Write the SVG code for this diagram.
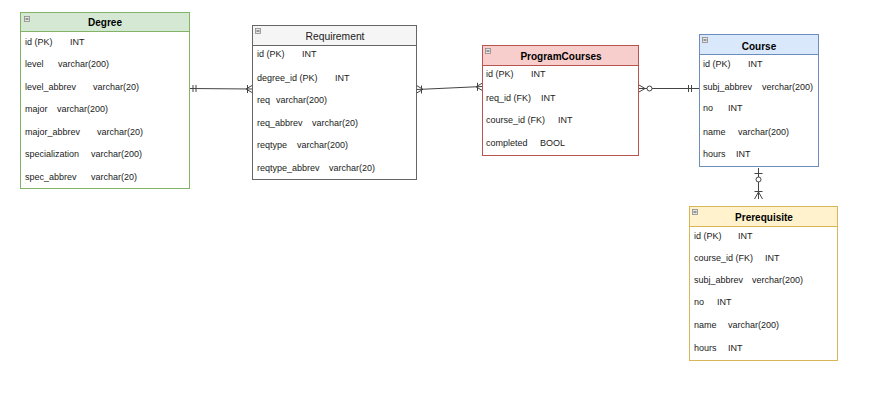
<svg xmlns="http://www.w3.org/2000/svg" width="885" height="408" viewBox="0 0 885 408">
<style>
  .row { font-family: "Liberation Sans", Arial, sans-serif; font-size: 9px; fill: #1a1a1a; }
  .title { font-family: "Liberation Sans", Arial, sans-serif; font-size: 10px; font-weight: bold; fill: #000; text-anchor: middle; }
  .title-n { font-family: "Liberation Sans", Arial, sans-serif; font-size: 10.3px; fill: #1a1a1a; text-anchor: middle; }
  .body { fill: #ffffff; stroke-width: 1; }
  .icon { fill: #e6e6e6; stroke: #8a8a8a; stroke-width: 0.8; }
  .iconl { stroke: #333; stroke-width: 0.9; }
  .conn { fill: none; stroke: #444; stroke-width: 1; }
  .circ { fill: #ffffff; stroke: #444; stroke-width: 1; }
</style>
<rect width="885" height="408" fill="#ffffff"/>

<g id="degree">
  <rect class="body" x="20.5" y="31.5" width="169" height="157" stroke="#82b366"/>
  <rect x="20.5" y="12.5" width="169" height="19" fill="#d5e8d4" stroke="#82b366"/>
  <rect class="icon" x="24.5" y="16.5" width="5" height="5"/><line class="iconl" x1="25.5" y1="19" x2="28.5" y2="19"/>
  <text class="title" x="105" y="25.5">Degree</text>
  <text class="row" x="25" y="45">id (PK)<tspan x="70">INT</tspan></text>
  <text class="row" x="25" y="67">level<tspan x="58">varchar(200)</tspan></text>
  <text class="row" x="25" y="90">level_abbrev<tspan x="93">varchar(20)</tspan></text>
  <text class="row" x="25" y="112">major<tspan x="57">varchar(200)</tspan></text>
  <text class="row" x="25" y="135">major_abbrev<tspan x="97">varchar(20)</tspan></text>
  <text class="row" x="25" y="157">specialization<tspan x="91">varchar(200)</tspan></text>
  <text class="row" x="25" y="180">spec_abbrev<tspan x="91">varchar(20)</tspan></text>
</g>

<g id="requirement">
  <rect class="body" x="252.5" y="45.5" width="164" height="134" stroke="#666666"/>
  <rect x="252.5" y="25.5" width="164" height="20" fill="#f5f5f5" stroke="#666666"/>
  <rect class="icon" x="255.5" y="28.5" width="5" height="5"/><line class="iconl" x1="256.5" y1="31" x2="259.5" y2="31"/>
  <text class="title-n" x="335" y="39.5">Requirement</text>
  <text class="row" x="257" y="57">id (PK)<tspan x="302">INT</tspan></text>
  <text class="row" x="257" y="81">degree_id (PK)<tspan x="335">INT</tspan></text>
  <text class="row" x="257" y="103">req<tspan x="276">varchar(200)</tspan></text>
  <text class="row" x="257" y="126">req_abbrev<tspan x="312">varchar(20)</tspan></text>
  <text class="row" x="257" y="148">reqtype<tspan x="297">varchar(200)</tspan></text>
  <text class="row" x="257" y="171">reqtype_abbrev<tspan x="329">varchar(20)</tspan></text>
</g>

<g id="programcourses">
  <rect class="body" x="482.5" y="65.5" width="156" height="90" stroke="#b85450"/>
  <rect x="482.5" y="45.5" width="156" height="20" fill="#f8cecc" stroke="#b85450"/>
  <rect class="icon" x="485.5" y="48.5" width="5" height="5"/><line class="iconl" x1="486.5" y1="51" x2="489.5" y2="51"/>
  <text class="title" x="561" y="59.5">ProgramCourses</text>
  <text class="row" x="486" y="77">id (PK)<tspan x="531">INT</tspan></text>
  <text class="row" x="486" y="101">req_id (FK)<tspan x="541">INT</tspan></text>
  <text class="row" x="486" y="123">course_id (FK)<tspan x="558">INT</tspan></text>
  <text class="row" x="486" y="146">completed<tspan x="540">BOOL</tspan></text>
</g>

<g id="course">
  <rect class="body" x="699.5" y="54.5" width="119" height="112" stroke="#6c8ebf"/>
  <rect x="699.5" y="34.5" width="119" height="20" fill="#dae8fc" stroke="#6c8ebf"/>
  <rect class="icon" x="702.5" y="37.5" width="5" height="5"/><line class="iconl" x1="703.5" y1="40" x2="706.5" y2="40"/>
  <text class="title" x="759" y="49.5">Course</text>
  <text class="row" x="703" y="67">id (PK)<tspan x="748">INT</tspan></text>
  <text class="row" x="703" y="90">subj_abbrev<tspan x="762">verchar(200)</tspan></text>
  <text class="row" x="703" y="111">no<tspan x="728">INT</tspan></text>
  <text class="row" x="703" y="135">name<tspan x="738">varchar(200)</tspan></text>
  <text class="row" x="703" y="157">hours<tspan x="736">INT</tspan></text>
</g>

<g id="prerequisite">
  <rect class="body" x="689.5" y="226.5" width="148" height="134" stroke="#d6b656"/>
  <rect x="689.5" y="206.5" width="148" height="20" fill="#fff2cc" stroke="#d6b656"/>
  <rect class="icon" x="692.5" y="209.5" width="5" height="5"/><line class="iconl" x1="693.5" y1="212" x2="696.5" y2="212"/>
  <text class="title" x="764" y="220.5">Prerequisite</text>
  <text class="row" x="694" y="239">id (PK)<tspan x="738">INT</tspan></text>
  <text class="row" x="694" y="261">course_id (FK)<tspan x="765">INT</tspan></text>
  <text class="row" x="694" y="283">subj_abbrev<tspan x="752">verchar(200)</tspan></text>
  <text class="row" x="694" y="305">no<tspan x="717">INT</tspan></text>
  <text class="row" x="694" y="328">name<tspan x="728">varchar(200)</tspan></text>
  <text class="row" x="694" y="351">hours<tspan x="728">INT</tspan></text>
</g>

<g id="connectors">
  <!-- Degree -> Requirement -->
  <path class="conn" d="M190 88.5 L252 89"/>
  <path class="conn" d="M193 85 V92 M196 85 V92"/>
  <path class="conn" d="M247.5 85 V93 M246 89 L252 85.5 M246 89 L252 92.5"/>
  <!-- Requirement -> ProgramCourses -->
  <path class="conn" d="M417 89.5 L482 86.5"/>
  <path class="conn" d="M421.5 85.5 V93.5 M423 89.3 L417 85.8 M423 89.3 L417 92.8"/>
  <path class="conn" d="M477.5 82.8 V90.8 M476 86.8 L482 83.3 M476 86.8 L482 90.3"/>
  <!-- ProgramCourses -> Course -->
  <path class="conn" d="M639 88.5 L699 88.5"/>
  <path class="conn" d="M645 88.5 L639 85 M645 88.5 L639 92"/>
  <circle class="circ" cx="649.5" cy="88.5" r="2.5"/>
  <path class="conn" d="M688.5 85 V92 M691.5 85 V92"/>
  <!-- Course -> Prerequisite -->
  <path class="conn" d="M758.5 168 V199"/>
  <path class="conn" d="M754.5 173.5 H762.5"/>
  <circle class="circ" cx="758.5" cy="179.5" r="2.5"/>
  <path class="conn" d="M754.5 191.5 H762.5 M758.5 192 L754.5 199 M758.5 192 L762.5 199"/>
</g>
</svg>
